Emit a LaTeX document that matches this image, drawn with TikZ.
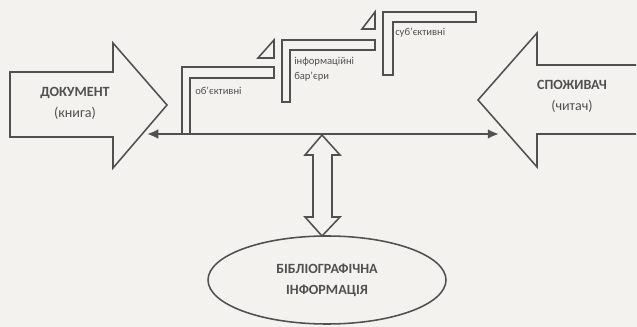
\documentclass[tikz,border=0pt]{standalone}
\usepackage{fontspec}
\setmainfont{Carlito}
\usetikzlibrary{arrows.meta}
\usetikzlibrary{shapes.geometric}

\definecolor{paper}{RGB}{243,242,238}
\definecolor{ink}{RGB}{80,80,80}

\begin{document}
\begin{tikzpicture}[x=0.025cm, y=-0.025cm,
		outline/.style={draw=ink, line width=1.1pt, line join=miter},
		bigtext/.style={text=ink, font=\fontsize{10}{13}\selectfont, align=center},
		smalltext/.style={text=ink, font=\fontsize{7.5}{10.5}\selectfont, align=left, anchor=west, inner sep=0pt}]
		\path[use as bounding box, fill=paper] (0,0) rectangle (637,327);
		\draw[outline] (10,72) -- (113,72) -- (113,43) -- (167,105) -- (113,168) -- (113,137) -- (10,137) -- cycle;
		\draw[outline] (636,65) -- (537,65) -- (537,33) -- (478,100) -- (537,167) -- (537,134) -- (636,134);
		\node[bigtext] (doc) at (75,103) {\textbf{ДОКУМЕНТ}\\[2pt](книга)};
		\node[bigtext] (user) at (572,96) {\textbf{СПОЖИВАЧ}\\[2pt](читач)};
		\draw[outline] (182,134) -- (182,67) -- (274,67) -- (274,78) -- (190,78) -- (190,134);
		\draw[outline] (282,102) -- (282,40) -- (375,40) -- (375,50) -- (290,50) -- (290,102) -- cycle;
		\draw[outline] (383,75) -- (383,12) -- (476,12) -- (476,22) -- (393,22) -- (393,75) -- cycle;
		\draw[outline] (258,58) -- (274,58) -- (274,40) -- cycle;
		\draw[outline] (362,29) -- (375,29) -- (375,12) -- cycle;
		\node[smalltext] (obj) at (195,91) {об’єктивні};
		\node[smalltext] (bar) at (294,69) {інформаційні\\бар’єри};
		\node[smalltext] (subj) at (395,33) {суб’єктивні};
		\coordinate (lend) at (147,134);
		\coordinate (rend) at (499,134);
		\draw[ink, line width=1.6pt, {Latex[length=8pt,width=7pt]}-{Latex[length=8pt,width=7pt]}] (lend) -- (rend);
		\node[ellipse, draw=ink, line width=1.1pt, minimum width=238*0.025cm, minimum height=88*0.025cm, bigtext] (bib) at (327,280) {\textbf{БІБЛІОГРАФІЧНА}\\[2pt]\textbf{ІНФОРМАЦІЯ}};
		\draw[outline] (322,135) -- (340,155) -- (332,155) -- (332,217) -- (340,217) -- (322,236) -- (305,217) -- (313,217) -- (313,155) -- (305,155) -- cycle;
	\end{tikzpicture}
\end{document}
